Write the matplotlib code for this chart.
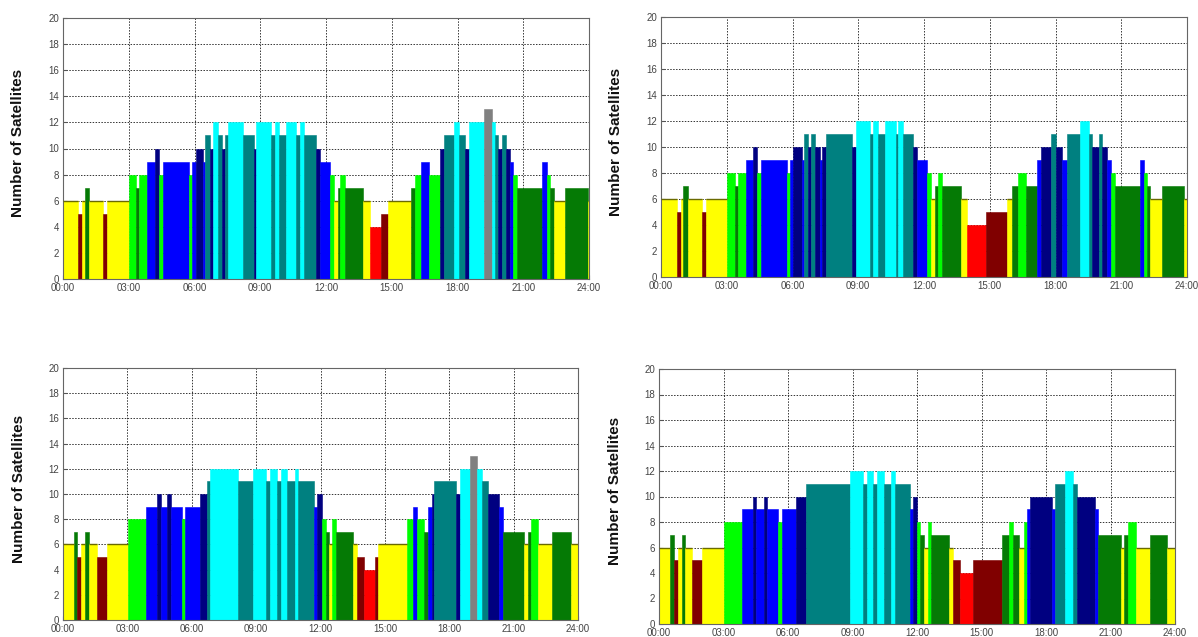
import matplotlib
matplotlib.use('Agg')
import matplotlib.pyplot as plt
import numpy as np

plt.rcParams['font.family'] = ['Liberation Sans', 'DejaVu Sans']

# time axis in minutes after 00:00; edges are segment boundaries, counts are satellites per segment
p1_edges = [0, 40, 51, 61, 72, 110, 121, 182, 200, 209, 230, 251, 262, 273, 345, 354, 363, 384, 390, 402,
            411, 423, 434, 443, 452, 493, 522, 529, 570, 580, 591, 610, 639, 648, 659, 692, 703, 731, 743,
            752, 759, 771, 821, 841, 871, 889, 952, 963, 979, 1002, 1031, 1042, 1071, 1085, 1100, 1112,
            1152, 1174, 1184, 1192, 1202, 1212, 1223, 1232, 1244, 1312, 1325, 1333, 1344, 1374, 1436, 1440]
p1_counts = [6, 5, 6, 7, 6, 5, 6, 8, 7, 8, 9, 10, 8, 9, 8, 9, 10, 9, 11, 10, 12, 11, 10, 11, 12, 11, 10,
             12, 11, 12, 11, 12, 11, 12, 11, 10, 9, 8, 6, 7, 8, 7, 6, 4, 5, 6, 7, 8, 9, 8, 10, 11, 12, 11,
             10, 12, 13, 12, 11, 10, 11, 10, 9, 8, 7, 9, 8, 7, 6, 7, 6]

p2_edges = [0, 43, 55, 61, 73, 113, 123, 182, 202, 212, 232, 253, 264, 274, 344, 353, 362, 385, 391, 403,
            410, 421, 435, 442, 451, 523, 533, 572, 580, 594, 613, 643, 650, 662, 691, 702, 729, 738, 750,
            759, 770, 821, 839, 889, 947, 961, 978, 999, 1028, 1040, 1068, 1081, 1098, 1111, 1148, 1171,
            1179, 1199, 1208, 1221, 1231, 1242, 1310, 1322, 1331, 1340, 1372, 1431, 1440]
p2_counts = [6, 5, 6, 7, 6, 5, 6, 8, 7, 8, 9, 10, 8, 9, 8, 9, 10, 9, 11, 10, 11, 10, 9, 10, 11, 10, 12,
             11, 12, 11, 12, 11, 12, 11, 10, 9, 8, 6, 7, 8, 7, 6, 4, 5, 6, 7, 8, 7, 9, 10, 11, 10, 9, 11,
             12, 11, 10, 11, 10, 9, 8, 7, 9, 8, 7, 6, 7, 6]

p3_edges = [0, 30, 39, 51, 61, 73, 94, 122, 181, 231, 262, 273, 290, 301, 332, 342, 382, 402, 410, 490,
            530, 569, 579, 597, 609, 627, 649, 658, 702, 711, 725, 734, 743, 753, 762, 812, 821, 842, 872,
            882, 961, 980, 991, 1010, 1020, 1031, 1038, 1099, 1109, 1138, 1157, 1171, 1188, 1220, 1230,
            1288, 1299, 1308, 1328, 1367, 1421, 1440]
p3_counts = [6, 7, 5, 6, 7, 6, 5, 6, 8, 9, 10, 9, 10, 9, 8, 9, 10, 11, 12, 11, 12, 11, 12, 11, 12, 11,
             12, 11, 9, 10, 8, 7, 6, 8, 7, 6, 5, 4, 5, 6, 8, 9, 8, 7, 9, 10, 11, 10, 12, 13, 12, 11, 10,
             9, 7, 6, 7, 8, 6, 7, 6]

p4_edges = [0, 31, 42, 52, 63, 73, 93, 120, 180, 232, 262, 272, 292, 302, 332, 342, 381, 411, 533, 568,
            580, 598, 609, 628, 647, 659, 700, 709, 720, 729, 739, 751, 760, 810, 820, 839, 876, 957, 976,
            988, 1006, 1018, 1027, 1036, 1097, 1106, 1134, 1155, 1166, 1216, 1225, 1289, 1299, 1308, 1331,
            1369, 1419, 1440]
p4_counts = [6, 7, 5, 6, 7, 6, 5, 6, 8, 9, 10, 9, 10, 9, 8, 9, 10, 11, 12, 11, 12, 11, 12, 11, 12, 11,
             9, 10, 8, 7, 6, 8, 7, 6, 5, 4, 5, 7, 8, 7, 6, 8, 9, 10, 9, 11, 12, 11, 10, 9, 7, 6, 7, 8, 6,
             7, 6]

x_tick_labels = ['00:00', '03:00', '06:00', '09:00', '12:00', '15:00', '18:00', '21:00', '24:00']
y_label = 'Number of Satellites'

count_colors = {4: '#ff0000', 5: '#800000', 6: '#ffff00', 7: '#057a05', 8: '#00ff00',
                9: '#0000ff', 10: '#000080', 11: '#008080', 12: '#00ffff', 13: '#808080'}

fig = plt.figure(figsize=(11.98, 6.37), dpi=100)
W, H = 1198, 637
boxes = [(63, 18, 589, 279), (661, 17, 1187, 277), (63, 368, 578, 620), (659, 369, 1175, 624)]
panels = [(p1_edges, p1_counts), (p2_edges, p2_counts), (p3_edges, p3_counts), (p4_edges, p4_counts)]

for (x0, y0, x1, y1), (edges, counts) in zip(boxes, panels):
    ax = fig.add_axes([x0 / W, (H - y1) / H, (x1 - x0) / W, (y1 - y0) / H])
    e = np.asarray(edges, dtype=float)
    c = np.asarray(counts)
    cols = [count_colors[v] for v in c]
    ax.bar(e[:-1], c, width=np.diff(e), align='edge', color=cols, edgecolor=cols, linewidth=0.4, zorder=2)
    for i, v in enumerate(c):
        if v == 6:
            ax.plot([e[i], e[i + 1]], [v, v], color='#6a6a00', lw=1.0, zorder=3, solid_capstyle='butt')
    ax.set_xlim(0, 1440)
    ax.set_ylim(0, 20)
    ax.set_xticks(np.arange(0, 1441, 180))
    ax.set_xticklabels(x_tick_labels)
    ax.set_yticks(np.arange(0, 21, 2))
    ax.grid(True, linestyle=(0, (1.5, 1.5)), color='#333333', linewidth=0.7)
    ax.set_axisbelow(True)
    ax.tick_params(direction='in', length=3, labelsize=7, labelcolor='#444444', color='#555555', pad=3)
    for s in ax.spines.values():
        s.set_color('#666666')
        s.set_linewidth(0.8)
    ax.set_ylabel(y_label, fontsize=11, fontweight='bold', color='#111111')
    ax.yaxis.set_label_coords(-0.072, 0.52)

fig.savefig('out.png', dpi=100, facecolor='white')
